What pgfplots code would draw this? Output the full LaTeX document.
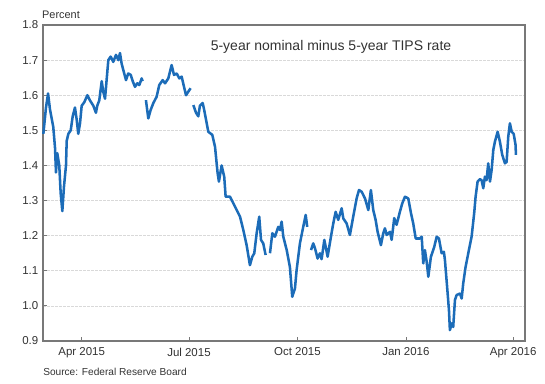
\documentclass[border=0pt]{standalone}
\usepackage{pgfplots}
\pgfplotsset{compat=1.18}
\usepackage{fontspec}
\setmainfont{Liberation Sans}
\definecolor{lineblue}{RGB}{28,108,184}
\definecolor{framegray}{RGB}{120,120,120}
\definecolor{txtgray}{RGB}{50,50,50}
\begin{document}
\begin{tikzpicture}
\useasboundingbox (-32.25pt,-31.5pt) rectangle (376.5pt,255.75pt);
\begin{axis}[
  at={(0pt,0pt)}, anchor=south west,
  scale only axis, width=361.5pt, height=237pt,
  xmin=57.2, xmax=466, ymin=0.9, ymax=1.8,
  xtick={90,181,273,365,456},
  xticklabels={Apr 2015,Jul 2015,Oct 2015,Jan 2016,Apr 2016},
  ytick={0.9,1.0,1.1,1.2,1.3,1.4,1.5,1.6,1.7,1.8},
  yticklabel style={/pgf/number format/fixed,/pgf/number format/precision=1,/pgf/number format/fixed zerofill},
  /pgf/number format/assume math mode=true,
  tick label style={font=\fontsize{8.6}{10}\selectfont, text=txtgray},
  xticklabel style={yshift=-1.5pt},
  tick align=inside, major tick length=3pt,
  xtick pos=bottom, ytick pos=left,
  tick style={framegray, line width=0.6pt},
  axis line style={framegray, line width=0.8pt},
  ymajorgrids, major grid style={gray!30, dash pattern=on 2pt off 1pt, line width=0.5pt},
  unbounded coords=jump,
  clip=false,
]
\addplot[lineblue, line width=1.9pt, line join=round] table[row sep=\\] {
x y\\
57.5 1.49\\
59.7 1.564\\
61.5 1.605\\
63.1 1.56\\
65.9 1.51\\
67.4 1.45\\
68.2 1.38\\
69.3 1.435\\
71.0 1.40\\
72.2 1.32\\
73.6 1.27\\
75.0 1.34\\
76.7 1.40\\
77.3 1.47\\
78.7 1.49\\
80.7 1.50\\
82.4 1.54\\
84.3 1.565\\
85.8 1.53\\
87.1 1.49\\
88.6 1.52\\
90.0 1.57\\
92.2 1.58\\
94.8 1.60\\
97.1 1.585\\
99.9 1.57\\
102.1 1.55\\
103.2 1.57\\
104.9 1.585\\
107.0 1.64\\
108.3 1.61\\
109.8 1.59\\
112.6 1.70\\
114.6 1.71\\
116.8 1.695\\
119.1 1.715\\
121.1 1.70\\
122.5 1.72\\
123.9 1.69\\
125.3 1.672\\
127.6 1.643\\
129.5 1.662\\
131.6 1.658\\
133.3 1.64\\
135.2 1.624\\
137.2 1.634\\
138.9 1.629\\
140.9 1.648\\
141.7 1.64\\
142.3 nan\\
144.5 1.586\\
146.5 1.534\\
148.5 1.558\\
150.7 1.577\\
153.6 1.596\\
155.8 1.629\\
158.7 1.643\\
160.7 1.634\\
163.5 1.648\\
166.3 1.686\\
168.3 1.658\\
170.6 1.662\\
172.8 1.648\\
174.8 1.653\\
176.8 1.624\\
178.5 1.60\\
180.4 1.61\\
182.4 1.62\\
183.5 nan\\
184.7 1.572\\
187.0 1.550\\
188.9 1.540\\
190.3 1.570\\
192.6 1.578\\
193.8 1.560\\
197.4 1.496\\
200.8 1.487\\
203.1 1.453\\
205.3 1.378\\
206.4 1.354\\
208.7 1.40\\
210.9 1.368\\
212.1 1.311\\
215.8 1.311\\
219.4 1.287\\
221.5 1.273\\
224.3 1.254\\
227.1 1.216\\
229.9 1.173\\
232.7 1.116\\
234.7 1.14\\
236.4 1.15\\
238.4 1.207\\
240.6 1.254\\
242.1 1.188\\
244.0 1.178\\
246.0 1.145\\
248.0 nan\\
249.7 1.15\\
251.7 1.207\\
253.9 1.197\\
256.7 1.225\\
258.2 1.216\\
259.6 1.24\\
261.0 1.197\\
263.9 1.159\\
266.6 1.111\\
268.6 1.026\\
270.9 1.05\\
272.3 1.102\\
275.1 1.178\\
277.9 1.225\\
280.0 1.259\\
281.3 1.225\\
283.0 nan\\
284.5 1.159\\
286.4 1.178\\
287.9 1.164\\
290.1 1.135\\
292.1 1.15\\
293.5 1.133\\
295.8 1.188\\
298.6 1.14\\
301.4 1.197\\
303.4 1.235\\
305.4 1.268\\
307.6 1.245\\
310.5 1.278\\
311.9 1.249\\
314.7 1.235\\
317.5 1.202\\
320.3 1.254\\
323.2 1.306\\
325.2 1.33\\
327.5 1.325\\
330.3 1.306\\
333.1 1.273\\
335.3 1.33\\
337.3 1.273\\
339.3 1.245\\
341.0 1.211\\
343.8 1.173\\
345.8 1.207\\
347.2 1.221\\
348.7 1.202\\
351.5 1.211\\
352.9 1.188\\
355.1 1.25\\
357.1 1.231\\
359.9 1.268\\
361.9 1.292\\
364.2 1.311\\
367.0 1.306\\
369.3 1.264\\
371.2 1.235\\
373.3 1.192\\
376.9 1.192\\
378.4 1.197\\
379.7 1.121\\
381.1 1.159\\
382.6 1.126\\
384.0 1.083\\
386.2 1.14\\
389.0 1.168\\
391.1 1.197\\
393.0 1.192\\
395.3 1.15\\
397.2 1.154\\
398.1 1.13\\
400.4 1.035\\
401.5 0.988\\
402.3 0.931\\
403.8 0.95\\
405.1 0.94\\
406.6 1.017\\
408.0 1.031\\
410.8 1.035\\
412.3 1.021\\
413.6 1.064\\
415.6 1.111\\
417.9 1.15\\
420.7 1.197\\
422.9 1.264\\
424.1 1.311\\
425.8 1.354\\
427.8 1.361\\
429.2 1.358\\
430.6 1.335\\
432.0 1.368\\
433.4 1.358\\
434.8 1.406\\
436.3 1.354\\
437.7 1.387\\
439.1 1.444\\
440.5 1.468\\
442.8 1.496\\
444.7 1.468\\
446.7 1.43\\
449.0 1.406\\
450.4 1.41\\
451.8 1.482\\
453.2 1.52\\
454.7 1.496\\
456.4 1.49\\
458.0 1.458\\
458.3 1.43\\
};
\end{axis}
\node[font=\fontsize{8.2}{10}\selectfont, text=txtgray] at (13.5pt,244.5pt) {Percent};
\node[font=\fontsize{10.5}{12}\selectfont, text=txtgray] at (216pt,220.7pt) {5-year nominal minus 5-year TIPS rate};
\node[font=\fontsize{7.6}{9}\selectfont, text=txtgray, anchor=west, inner sep=0pt] at (0pt,-23pt) {Source: Federal Reserve Board};
\end{tikzpicture}
\end{document}
